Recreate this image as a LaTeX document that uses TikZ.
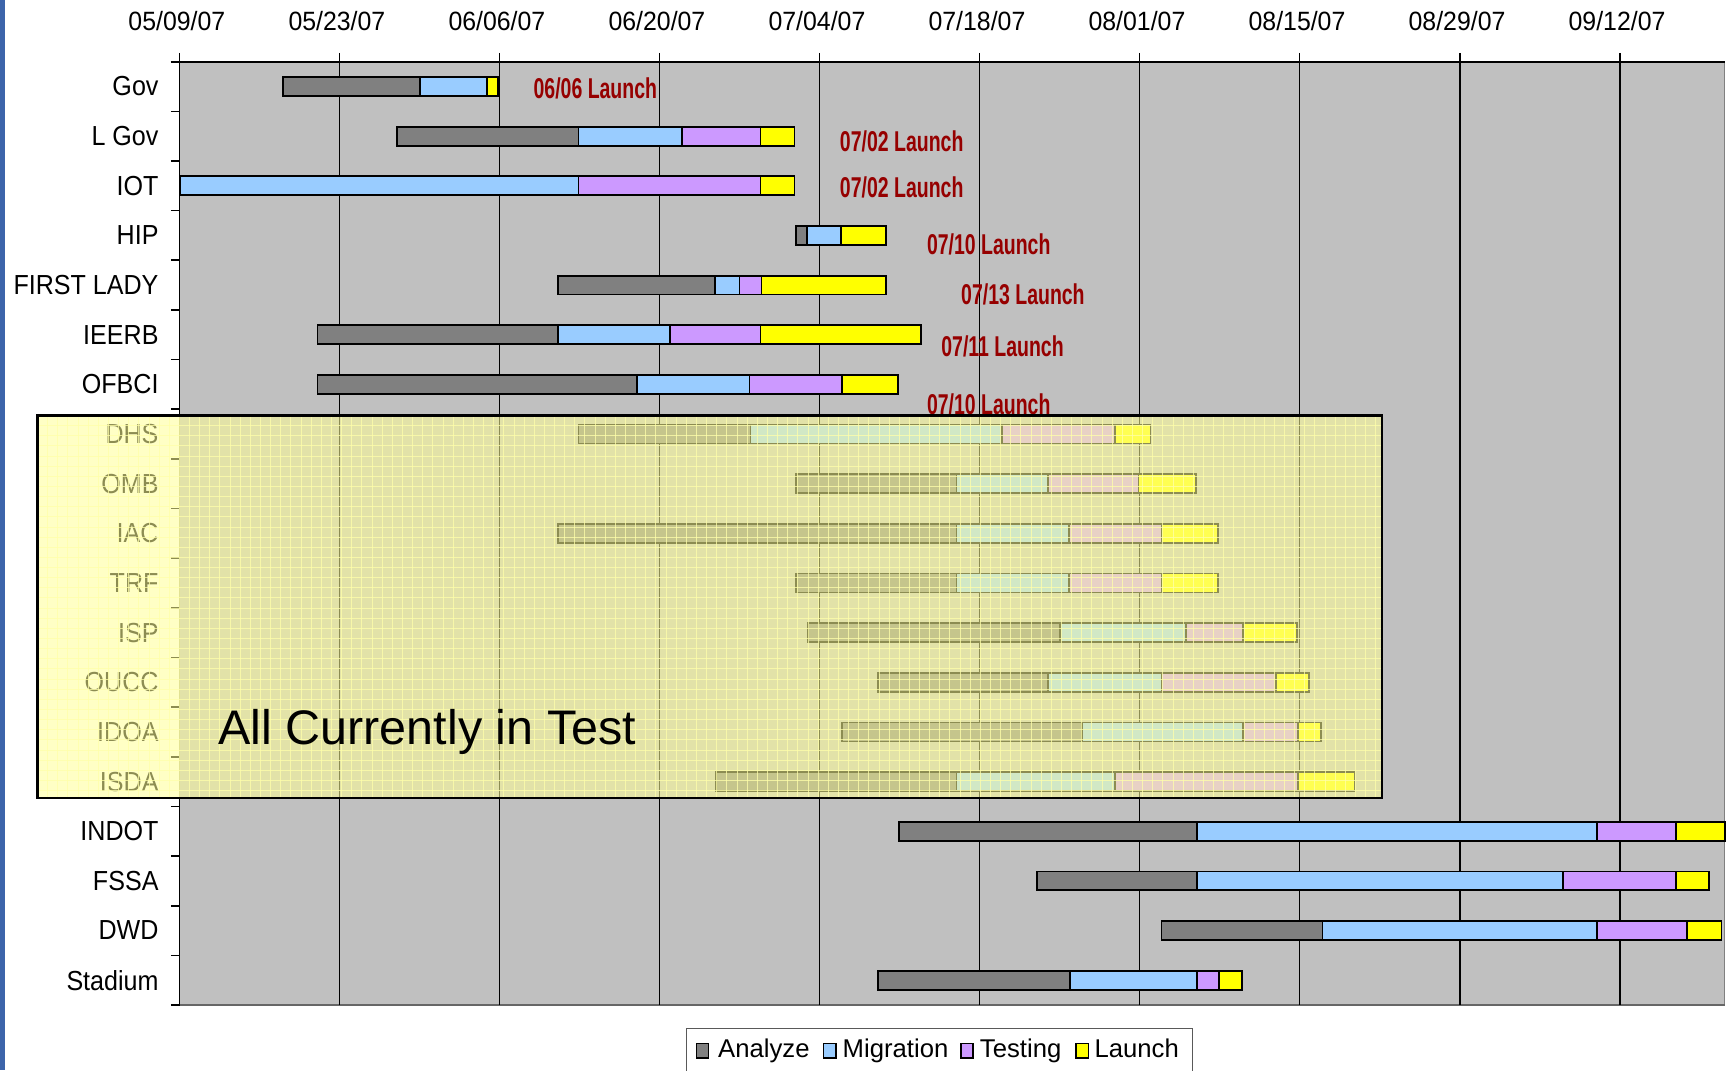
\documentclass[tikz,border=0pt]{standalone}
\usepackage{fontspec}
\setmainfont{Liberation Sans}
\newfontfamily\rowfont{Liberation Sans}[FakeStretch=0.91]
\newfontfamily\datefont{Liberation Sans}[FakeStretch=0.94]
\newfontfamily\launchfont{Liberation Sans}[FakeStretch=0.68]
\definecolor{ana}{HTML}{808080}
\definecolor{mig}{HTML}{99CCFF}
\definecolor{tst}{HTML}{CC99FF}
\definecolor{lau}{HTML}{FFFF00}
\definecolor{plotbg}{HTML}{C0C0C0}
\definecolor{launchred}{RGB}{150,0,0}
\definecolor{leftblue}{RGB}{60,100,170}
\definecolor{boxyellow}{RGB}{255,255,150}
\definecolor{gridyellow}{RGB}{255,255,170}
\newcommand\rowy[1]{78.5+45.05*#1}
\newcommand\seg[4]{\draw[barseg,fill=#4] (#2,{\rowy{#1}-8.6}) rectangle (#3,{\rowy{#1}+8.6});}
\tikzset{
  barseg/.style={draw=black,line width=1.6},
  rowlbl/.style={anchor=east,inner sep=0pt,font=\rowfont\fontsize{25}{25}\selectfont},
  datelbl/.style={anchor=center,inner sep=0pt,font=\datefont\fontsize{24}{24}\selectfont},
  launchlbl/.style={anchor=west,inner sep=0pt,text=launchred,font=\launchfont\bfseries\fontsize{26}{26}\selectfont},
  leglbl/.style={anchor=base west,inner sep=0pt,font=\fontsize{23.3}{23.3}\selectfont},
  gridline/.style={draw=black,line width=1.3},
  boxgrid/.style={draw=gridyellow,line width=0.9,opacity=0.75},
}
\begin{document}
\begin{tikzpicture}[x=1pt,y=-1pt]
\useasboundingbox (0,0) rectangle (1568,971);
\fill[white] (0,0) rectangle (1568,971);
\fill[leftblue] (0,0) rectangle (4.5,971);
% plot area
\fill[plotbg] (163,56) rectangle (1565,912);
\draw[gray,line width=1] (1565,56) -- (1565,912);
\draw[gray!80!black,line width=2] (163,912) -- (1565,912);
\foreach \k in {0,...,9} \draw[gridline] ({163+145.2*\k},48) -- ({163+145.2*\k},912);
\draw[black,line width=1.5] (155,56) -- (1565,56);
\draw[black,line width=1.5] (163,56) -- (163,912);
\foreach \k in {0,...,19} \draw[black,line width=1.5] (155,{56+45.05*\k}) -- (163,{56+45.05*\k});
% dates
\node[datelbl] (d0) at (160.5,19) {05/09/07};
\node[datelbl] (d1) at (305.7,19) {05/23/07};
\node[datelbl] (d2) at (450.9,19) {06/06/07};
\node[datelbl] (d3) at (596.1,19) {06/20/07};
\node[datelbl] (d4) at (741.3,19) {07/04/07};
\node[datelbl] (d5) at (886.5,19) {07/18/07};
\node[datelbl] (d6) at (1031.7,19) {08/01/07};
\node[datelbl] (d7) at (1176.9,19) {08/15/07};
\node[datelbl] (d8) at (1322.1,19) {08/29/07};
\node[datelbl] (d9) at (1467.3,19) {09/12/07};
% row labels
\node[rowlbl] (r0) at (144,{\rowy{0}}) {Gov};
\node[rowlbl] (r1) at (144,{\rowy{1}}) {L Gov};
\node[rowlbl] (r2) at (144,{\rowy{2}}) {IOT};
\node[rowlbl] (r3) at (144,{\rowy{3}}) {HIP};
\node[rowlbl] (r4) at (144,{\rowy{4}}) {FIRST LADY};
\node[rowlbl] (r5) at (144,{\rowy{5}}) {IEERB};
\node[rowlbl] (r6) at (144,{\rowy{6}}) {OFBCI};
\node[rowlbl] (r7) at (144,{\rowy{7}}) {DHS};
\node[rowlbl] (r8) at (144,{\rowy{8}}) {OMB};
\node[rowlbl] (r9) at (144,{\rowy{9}}) {IAC};
\node[rowlbl] (r10) at (144,{\rowy{10}}) {TRF};
\node[rowlbl] (r11) at (144,{\rowy{11}}) {ISP};
\node[rowlbl] (r12) at (144,{\rowy{12}}) {OUCC};
\node[rowlbl] (r13) at (144,{\rowy{13}}) {IDOA};
\node[rowlbl] (r14) at (144,{\rowy{14}}) {ISDA};
\node[rowlbl] (r15) at (144,{\rowy{15}}) {INDOT};
\node[rowlbl] (r16) at (144,{\rowy{16}}) {FSSA};
\node[rowlbl] (r17) at (144,{\rowy{17}}) {DWD};
\node[rowlbl] (r18) at (144,{\rowy{18}}) {Stadium};
% bars
\seg{0}{257}{381}{ana}\seg{0}{381}{442}{mig}\seg{0}{442}{452}{lau}
\seg{1}{360}{525}{ana}\seg{1}{525}{619}{mig}\seg{1}{619}{690}{tst}\seg{1}{690}{721}{lau}
\seg{2}{163}{525}{mig}\seg{2}{525}{690}{tst}\seg{2}{690}{721}{lau}
\seg{3}{722}{732}{ana}\seg{3}{732}{763}{mig}\seg{3}{763}{804}{lau}
\seg{4}{506}{649}{ana}\seg{4}{649}{671}{mig}\seg{4}{671}{691}{tst}\seg{4}{691}{804}{lau}
\seg{5}{288}{506}{ana}\seg{5}{506}{608}{mig}\seg{5}{608}{690}{tst}\seg{5}{690}{836}{lau}
\seg{6}{288}{578}{ana}\seg{6}{578}{680}{mig}\seg{6}{680}{764}{tst}\seg{6}{764}{815}{lau}
\seg{7}{525}{681}{ana}\seg{7}{681}{909}{mig}\seg{7}{909}{1012}{tst}\seg{7}{1012}{1044}{lau}
\seg{8}{722}{868}{ana}\seg{8}{868}{951}{mig}\seg{8}{951}{1033}{tst}\seg{8}{1033}{1085}{lau}
\seg{9}{506}{868}{ana}\seg{9}{868}{970}{mig}\seg{9}{970}{1054}{tst}\seg{9}{1054}{1105}{lau}
\seg{10}{722}{868}{ana}\seg{10}{868}{970}{mig}\seg{10}{970}{1054}{tst}\seg{10}{1054}{1105}{lau}
\seg{11}{733}{962}{ana}\seg{11}{962}{1076}{mig}\seg{11}{1076}{1128}{tst}\seg{11}{1128}{1177}{lau}
\seg{12}{797}{951}{ana}\seg{12}{951}{1054}{mig}\seg{12}{1054}{1158}{tst}\seg{12}{1158}{1188}{lau}
\seg{13}{764}{982}{ana}\seg{13}{982}{1128}{mig}\seg{13}{1128}{1178}{tst}\seg{13}{1178}{1199}{lau}
\seg{14}{650}{868}{ana}\seg{14}{868}{1012}{mig}\seg{14}{1012}{1178}{tst}\seg{14}{1178}{1229}{lau}
\seg{15}{816}{1086}{ana}\seg{15}{1086}{1449}{mig}\seg{15}{1449}{1521}{tst}\seg{15}{1521}{1565}{lau}
\seg{16}{941}{1086}{ana}\seg{16}{1086}{1418}{mig}\seg{16}{1418}{1521}{tst}\seg{16}{1521}{1551}{lau}
\seg{17}{1054}{1200}{ana}\seg{17}{1200}{1449}{mig}\seg{17}{1449}{1531}{tst}\seg{17}{1531}{1562}{lau}
\seg{18}{797}{971}{ana}\seg{18}{971}{1086}{mig}\seg{18}{1086}{1106}{tst}\seg{18}{1106}{1127}{lau}
% launch labels
\node[launchlbl] (l0) at (484,80) {06/06 Launch};
\node[launchlbl] (l1) at (762,128) {07/02 Launch};
\node[launchlbl] (l2) at (762,170.5) {07/02 Launch};
\node[launchlbl] (l3) at (841,222) {07/10 Launch};
\node[launchlbl] (l4) at (872,267) {07/13 Launch};
\node[launchlbl] (l5) at (854,314.5) {07/11 Launch};
\node[launchlbl] (l6) at (841,367) {07/10 Launch};
% overlay box
\fill[boxyellow,opacity=0.55] (34,377) rectangle (1254,724);
\foreach \i in {1,...,132} \draw[boxgrid] ({34+9.2*\i},377) -- ({34+9.2*\i},724);
\foreach \j in {1,...,37} \draw[boxgrid] (34,{377+9.2*\j}) -- (1254,{377+9.2*\j});
\draw[black,line width=2] (34,377) rectangle (1254,724);
\node[anchor=base west,inner sep=0pt,font=\fontsize{44}{44}\selectfont] (test) at (198,676) {All Currently in Test};
% legend
\draw[gray!70!black,line width=1.2] (623,975) -- (623,933) -- (1082,933) -- (1082,975);
\draw[fill=ana,line width=1.2] (632,947) rectangle (643,960);
\node[leglbl] (la) at (651.5,960) {Analyze};
\draw[fill=mig,line width=1.2] (747,947) rectangle (758.5,960);
\node[leglbl] (lm) at (764.5,960) {Migration};
\draw[fill=tst,line width=1.2] (872,947) rectangle (883,960);
\node[leglbl] (lt) at (889,960) {Testing};
\draw[fill=lau,line width=1.2] (976.5,947) rectangle (988,960);
\node[leglbl] (ll) at (993,960) {Launch};
\end{tikzpicture}
\end{document}
